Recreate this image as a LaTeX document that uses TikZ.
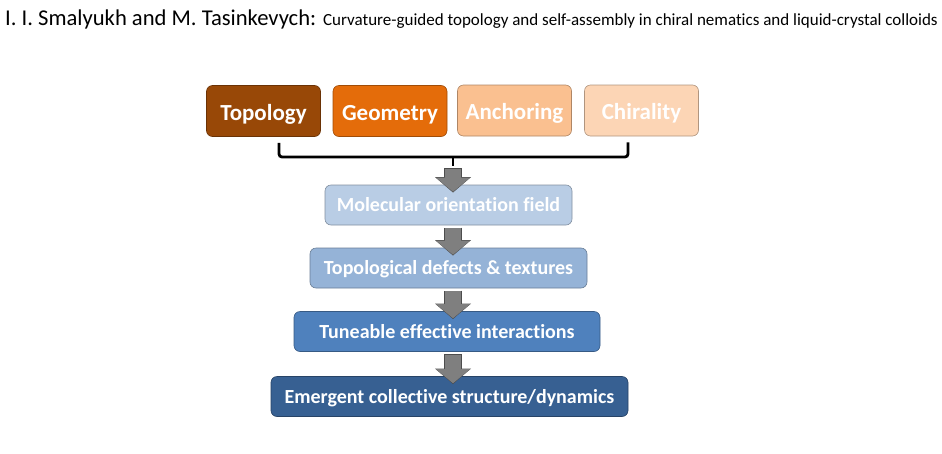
\documentclass[tikz,border=0pt]{standalone}
\usepackage{fontspec}
\setmainfont[Ligatures=NoCommon]{Carlito}
\usetikzlibrary{arrows.meta,calc}
\definecolor{topocol}{HTML}{984807}
\definecolor{geocol}{HTML}{E46C0A}
\definecolor{anchcol}{HTML}{FAC090}
\definecolor{chircol}{HTML}{FCD5B5}
\definecolor{molcol}{HTML}{B9CDE5}
\definecolor{defcol}{HTML}{95B3D7}
\definecolor{tunecol}{HTML}{4F81BD}
\definecolor{emcol}{HTML}{376092}
\definecolor{arrowgray}{HTML}{7F7F7F}
\definecolor{arrowedge}{HTML}{4D4D4D}

\begin{document}
\begin{tikzpicture}[x=1pt,y=-1pt,
  box/.style={fill=#1, draw=#1!70!black, line width=0.6pt, rounded corners=6pt,
    text=white, font=\bfseries, inner sep=0pt},
  topbox/.style={box=#1, minimum width=114pt, minimum height=51pt,
    font=\fontsize{23}{25}\selectfont\bfseries, text height=19pt, text depth=1pt},
  flowbox/.style={box=#1, minimum height=40pt,
    font=\fontsize{20}{22}\selectfont\bfseries, text height=14pt, text depth=1pt},
  brace/.style={line width=2.8pt, rounded corners=3pt},
  flowarrow/.style={draw=arrowgray, line width=16pt,
    -{Triangle[width=34pt,length=14pt,line width=0pt]},
    shorten <=3pt, shorten >=-7pt,
    preaction={draw=arrowedge, line width=17.4pt,
      -{Triangle[width=36pt,length=15.4pt,line width=0pt]},
      shorten <=2.3pt, shorten >=-7.8pt}}]
\useasboundingbox (0,0) rectangle (942,453);

\node[anchor=base west, inner sep=0pt] (title) at (5,25)
  {\fontsize{22.6}{24}\selectfont I. I. Smalyukh and M. Tasinkevych: \fontsize{17}{19}\selectfont Curvature-guided topology and self-assembly in chiral nematics and liquid-crystal colloids};

\node[topbox=topocol] (topo) at (263.5,111) {Topology};
\node[topbox=geocol] (geo) at (390,111) {Geometry};
\node[topbox=anchcol] (anch) at (514.5,110.5) {Anchoring};
\node[topbox=chircol] (chir) at (641.5,110.5) {Chirality};

\node[flowbox=molcol, minimum width=247pt] (mol) at (448.5,205) {Molecular orientation field};
\node[flowbox=defcol, minimum width=277pt] (defects) at (448.5,268) {Topological defects \& textures};
\node[flowbox=tunecol, minimum width=306pt] (tune) at (447,331.5) {Tuneable effective interactions};
\node[flowbox=emcol, minimum width=357pt] (emerg) at (449.5,396.5) {Emergent collective structure/dynamics};

% bracket gathering the four inputs
\coordinate (bl) at ($(topo.south)+(15.5,6)$);
\coordinate (br) at ($(chir.south)+(-13.5,6)$);
\coordinate (bm) at (453,157);
\coordinate (bs) at (453,166);
\draw[brace] (bl) |- (bm) -| (br);
\draw[brace] (bm) -- (bs);

\draw[flowarrow] (bs) -- ($(mol.north)+(4.5,0)$);
\draw[flowarrow] (mol.south -| bs) -- (defects.north -| bs);
\draw[flowarrow] (defects.south -| bs) -- (tune.north -| bs);
\draw[flowarrow] (tune.south -| bs) -- (emerg.north -| bs);
\end{tikzpicture}
\end{document}
